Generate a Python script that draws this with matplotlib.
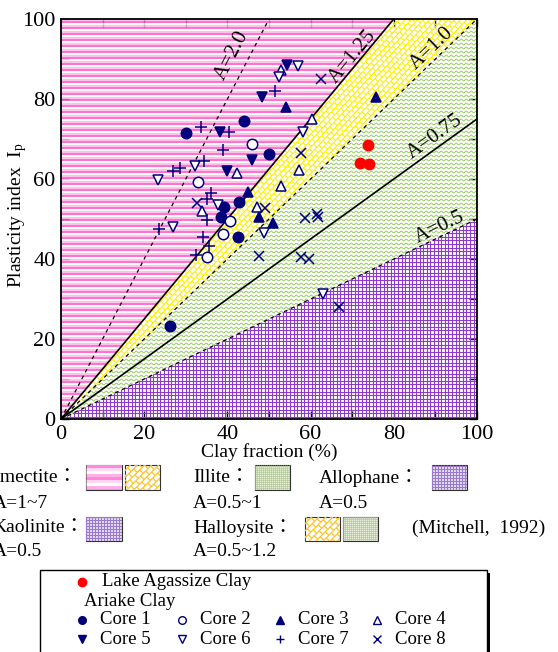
import numpy as np
import matplotlib
matplotlib.use('Agg')
import matplotlib.pyplot as plt
from matplotlib.patches import Polygon, Rectangle
from matplotlib.collections import LineCollection
from matplotlib.lines import Line2D
from matplotlib.transforms import IdentityTransform

plt.rcParams['font.family'] = ['Liberation Serif', 'Noto Sans CJK JP']

W, H = 558, 652
NAVY = '#00007a'

# ---- data (clay fraction %, plasticity index) ----
lake_x = [73.8, 71.9, 74.0]
lake_y = [68.5, 64.0, 63.8]

core1_x = [30.0, 44.0, 50.0, 39.2, 38.5, 42.5, 42.8, 26.2]
core1_y = [71.5, 74.5, 66.3, 53.0, 50.5, 45.5, 54.3, 23.3]
core2_x = [46.0, 33.0, 40.6, 38.9, 35.0]
core2_y = [68.7, 59.3, 49.5, 46.3, 40.6]
core3_x = [54.0, 75.7, 47.6, 51.0, 45.0]
core3_y = [78.0, 80.5, 50.5, 49.0, 56.8]
core4_x = [42.3, 53.0, 60.3, 57.2, 52.9, 47.0, 34.0]
core4_y = [61.5, 87.3, 75.0, 62.3, 58.3, 53.0, 52.0]
core5_x = [38.2, 48.3, 46.0, 40.0, 54.3]
core5_y = [71.8, 80.5, 64.8, 62.0, 88.5]
core6_x = [57.0, 52.4, 58.2, 23.3, 32.2, 27.0, 37.7, 48.8, 63.0]
core6_y = [88.3, 85.5, 71.8, 59.8, 63.2, 48.0, 53.5, 46.5, 31.3]
core7_x = [33.7, 40.4, 39.0, 27.0, 28.6, 34.4, 36.0, 35.0, 51.4, 35.1, 34.2, 35.6, 32.5, 23.6]
core7_y = [73.0, 71.8, 67.2, 62.0, 62.7, 64.5, 56.5, 55.0, 82.0, 49.8, 45.5, 43.3, 41.0, 47.5]
core8_x = [62.5, 57.7, 32.7, 49.0, 58.7, 61.5, 61.8, 47.6, 57.7, 59.6, 66.8]
core8_y = [85.0, 66.5, 54.0, 52.7, 50.3, 51.3, 50.5, 40.8, 40.5, 40.0, 28.0]

a_values = [2.0, 1.25, 1.0, 0.75, 0.5]
a_labels = ['A=2.0', 'A=1.25', 'A=1.0', 'A=0.75', 'A=0.5']
a_styles = ['--', '-', '--', '-', '--']
a_label_pos = [(41.0, 91.0), (70.0, 90.5), (89.0, 92.7), (90.0, 70.5), (91.0, 48.0)]

cores = [
    (core1_x, core1_y, 'o', True, 'Core 1'),
    (core2_x, core2_y, 'o', False, 'Core 2'),
    (core3_x, core3_y, '^', True, 'Core 3'),
    (core4_x, core4_y, '^', False, 'Core 4'),
    (core5_x, core5_y, 'v', True, 'Core 5'),
    (core6_x, core6_y, 'v', False, 'Core 6'),
    (core7_x, core7_y, '+', True, 'Core 7'),
    (core8_x, core8_y, 'x', True, 'Core 8'),
]


# ---- fill patterns, drawn in pixel space and clipped ----
def add_lines(target, segs, colors, lw, clip):
    lc = LineCollection(segs, colors=colors, linewidths=lw, transform=IdentityTransform())
    lc.set_clip_path(clip)
    if hasattr(target, 'add_collection'):
        target.add_collection(lc, autolim=False)
    else:
        target.add_artist(lc)


def stripes(target, clip, box, step, colors, lw):
    x0, y0, x1, y1 = box
    segs, cols = [], []
    for i, y in enumerate(np.arange(y0, y1 + step, step)):
        segs.append([(x0, y), (x1, y)])
        cols.append(colors[i % len(colors)])
    add_lines(target, segs, cols, lw, clip)


def grid(target, clip, box, step, color, lw):
    x0, y0, x1, y1 = box
    segs = [[(x, y0), (x, y1)] for x in np.arange(x0, x1 + step, step)]
    segs += [[(x0, y), (x1, y)] for y in np.arange(y0, y1 + step, step)]
    add_lines(target, segs, color, lw, clip)


def waves(target, clip, box, step, period, amp, color, lw):
    x0, y0, x1, y1 = box
    xs = np.arange(x0, x1 + 1, 0.5)
    segs = []
    for y in np.arange(y0, y1 + step, step):
        segs.append(np.column_stack([xs, y + amp * np.sin(2 * np.pi * xs / period)]))
    add_lines(target, segs, color, lw, clip)


def bricks(target, clip, box, step, blen, angle, color, lw):
    x0, y0, x1, y1 = box
    c, s = np.cos(np.radians(angle)), np.sin(np.radians(angle))
    corners = np.array([[x0, y0], [x1, y0], [x0, y1], [x1, y1]])
    u = corners[:, 0] * c + corners[:, 1] * s
    v = -corners[:, 0] * s + corners[:, 1] * c

    def to_xy(uu, vv):
        return (uu * c - vv * s, uu * s + vv * c)

    segs = []
    ks = np.arange(np.floor(v.min() / step) - 1, np.ceil(v.max() / step) + 1)
    for k in ks:
        vv = k * step
        segs.append([to_xy(u.min(), vv), to_xy(u.max(), vv)])
        off = (k % 2) * blen / 2
        for uu in np.arange(np.floor(u.min() / blen) * blen + off, u.max() + blen, blen):
            segs.append([to_xy(uu, vv), to_xy(uu, vv + step)])
    add_lines(target, segs, color, lw, clip)


fig = plt.figure(figsize=(W / 100, H / 100), dpi=100)
ax = fig.add_axes([61 / W, 1 - 419 / H, 416 / W, 400 / H])
ax.set_xlim(0, 100)
ax.set_ylim(0, 100)

# region polygons in data coordinates
regions = {
    'smectite': [(0, 0), (100 / 1.25, 100), (0, 100)],
    'yellow': [(0, 0), (100, 100), (100 / 1.25, 100)],
    'illite': [(0, 0), (100, 50), (100, 100)],
    'allophane': [(0, 0), (100, 0), (100, 50)],
}
fig.canvas.draw()
bx0, by0, bx1, by1 = ax.bbox.extents
abox = (bx0 - 5, by0 - 5, bx1 + 5, by1 + 5)

clip = Polygon(regions['smectite'], closed=True, transform=ax.transData)
stripes(ax, clip, abox, 2.0, ['#ff55cc', '#ffb8e8', '#ffffff'], 1.2)
clip = Polygon(regions['yellow'], closed=True, transform=ax.transData)
bricks(ax, clip, abox, 4.5, 6.0, 47, '#ffee00', 0.8)
clip = Polygon(regions['illite'], closed=True, transform=ax.transData)
waves(ax, clip, abox, 4.0, 5.0, 0.9, '#98cc60', 0.7)
clip = Polygon(regions['allophane'], closed=True, transform=ax.transData)
grid(ax, clip, abox, 3.6, '#8c3cc8', 0.8)

# A-lines
for a, ls, lab, (lx, ly) in zip(a_values, a_styles, a_labels, a_label_pos):
    xe = min(100.0, 100.0 / a)
    ax.plot([0, xe], [0, a * xe], color='black', ls=ls,
            lw=1.2 if ls == '-' else 0.9, dashes=(3, 3) if ls == '--' else (None, None), zorder=3)
    ax.text(lx, ly, lab, rotation=np.degrees(np.arctan(a)), transform_rotates_text=True,
            rotation_mode='anchor', ha='center', va='center', fontsize=15, zorder=4)

# data points
for xs, ys, m, filled, lab in cores:
    if m in ('+', 'x'):
        ax.plot(xs, ys, ls='none', marker=m, color=NAVY, ms=8 if m == '+' else 7, mew=1.1, zorder=5)
    else:
        ax.plot(xs, ys, ls='none', marker=m, ms=7.5, mew=1.1,
                mec=NAVY, mfc=NAVY if filled else 'white', zorder=5)
ax.plot(lake_x, lake_y, ls='none', marker='o', ms=7.5, color='#ff0000', mec='#ff0000', zorder=5)

ax.set_xticks(np.arange(0, 101, 20))
ax.set_yticks(np.arange(0, 101, 20))
ax.set_xticks(np.arange(10, 100, 20), minor=True)
ax.set_yticks(np.arange(10, 100, 20), minor=True)
ax.tick_params(which='both', direction='in', top=True, right=True, length=6, width=1.0,
               labelsize=16, pad=4)
for sp in ax.spines.values():
    sp.set_linewidth(1.3)
ax.set_xlabel('Clay fraction (%)', fontsize=14, labelpad=0)
ax.set_ylabel(r'Plasticity index  $\mathregular{I_p}$', fontsize=14)
ax.yaxis.set_label_coords((29 - 61) / 416, (419 - 215) / 400)


# ---- Mitchell key below the chart (pixel layout, y from top) ----
def fx(x):
    return x / W


def fy(y):
    return 1 - y / H


def swatch(x0, y0, x1, y1, kind):
    box = (x0, H - y1, x1, H - y0)
    clip = Rectangle((x0, H - y1), x1 - x0, y1 - y0, transform=IdentityTransform())
    if kind == 'pink':
        stripes(fig, clip, box, 3.0, ['#ff88dd', '#ffb0e8', '#ffffff', '#ffd8f2'], 2.2)
    elif kind == 'yellow':
        bricks(fig, clip, box, 5.0, 7.0, 45, '#ffc42a', 0.9)
    elif kind == 'green':
        fig.add_artist(Rectangle((x0, H - y1), x1 - x0, y1 - y0, transform=IdentityTransform(),
                                 facecolor='#e6eed8', edgecolor='none'))
        grid(fig, clip, box, 2.0, '#b4c898', 0.5)
    elif kind == 'purple':
        fig.add_artist(Rectangle((x0, H - y1), x1 - x0, y1 - y0, transform=IdentityTransform(),
                                 facecolor='#ece4f6', edgecolor='none'))
        grid(fig, clip, box, 3.0, '#9a78cc', 0.8)
    fig.add_artist(Rectangle((x0, H - y1), x1 - x0, y1 - y0, transform=IdentityTransform(),
                             facecolor='none', edgecolor='#333333', lw=0.8))


key_fs = 14
fig.text(fx(-10), fy(478), 'Smectite：', fontsize=key_fs, va='center')
swatch(86, 465, 122, 490, 'pink')
swatch(125, 465, 160, 490, 'yellow')
fig.text(fx(-7), fy(503), 'A=1~7', fontsize=key_fs, va='center')
fig.text(fx(193), fy(478), 'Illite：', fontsize=key_fs, va='center')
swatch(255, 465, 290, 490, 'green')
fig.text(fx(193), fy(503), 'A=0.5~1', fontsize=key_fs, va='center')
fig.text(fx(319), fy(478), 'Allophane：', fontsize=key_fs, va='center')
swatch(432, 465, 467, 490, 'purple')
fig.text(fx(319), fy(503), 'A=0.5', fontsize=key_fs, va='center')

fig.text(fx(-8), fy(528), 'Kaolinite：', fontsize=key_fs, va='center')
swatch(86, 517, 122, 541, 'purple')
fig.text(fx(-7), fy(551), 'A=0.5', fontsize=key_fs, va='center')
fig.text(fx(193), fy(528), 'Halloysite：', fontsize=key_fs, va='center')
swatch(305, 517, 340, 541, 'yellow')
swatch(343, 517, 378, 541, 'green')
fig.text(fx(193), fy(551), 'A=0.5~1.2', fontsize=key_fs, va='center')
fig.text(fx(412), fy(528), '(Mitchell,  1992)', fontsize=key_fs, va='center')

# ---- symbol legend box ----
fig.add_artist(Rectangle((43, H - 665), 447, 92, transform=IdentityTransform(),
                         facecolor='black', edgecolor='none'))
fig.add_artist(Rectangle((40, H - 662), 447, 92, transform=IdentityTransform(),
                         facecolor='white', edgecolor='black', lw=1.0))

leg_fs = 13.5
fig.add_artist(Line2D([fx(82)], [fy(582)], marker='o', ms=6, color='#ff0000',
                      transform=fig.transFigure))
fig.text(fx(102), fy(582), 'Lake Agassize Clay', fontsize=leg_fs, va='center')
fig.text(fx(84), fy(602), 'Ariake Clay', fontsize=leg_fs, va='center')
col_mx = [82, 182, 280, 377]
row_y = [620, 639]
for i, (xs, ys, m, filled, lab) in enumerate(cores):
    mx, my = col_mx[i % 4], row_y[i // 4]
    if m in ('+', 'x'):
        mk = dict(marker=m, color=NAVY, ms=6, mew=1.0)
    else:
        mk = dict(marker=m, ms=5.5, mew=1.0, mec=NAVY, mfc=NAVY if filled else 'white')
    fig.add_artist(Line2D([fx(mx)], [fy(my)], ls='none', transform=fig.transFigure, **mk))
    fig.text(fx(mx + 18), fy(my), lab, fontsize=leg_fs, va='center')

fig.savefig('out.png', dpi=100)
